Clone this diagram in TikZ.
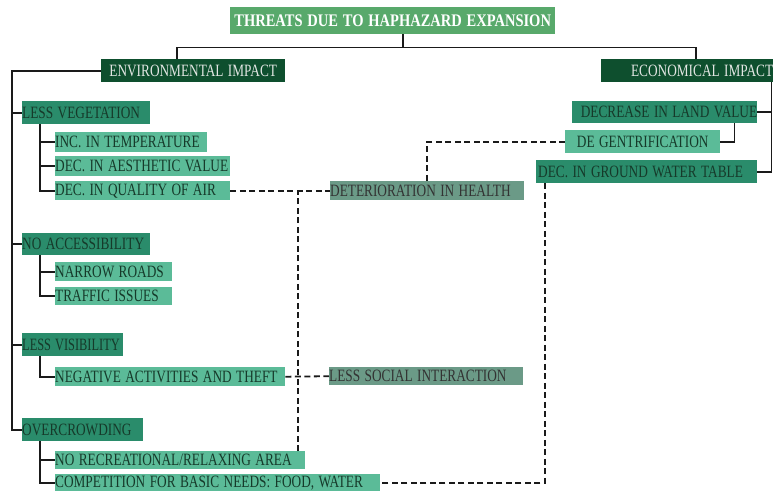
\documentclass[tikz,border=0pt]{standalone}
\usepackage{graphicx}
\usepackage{fontspec}
\setmainfont{Liberation Serif}
\definecolor{ctitle}{HTML}{58A96B}
\definecolor{cdark}{HTML}{0E4F2E}
\definecolor{ctwo}{HTML}{2A8C6B}
\definecolor{cthree}{HTML}{5BBB98}
\definecolor{cgray}{HTML}{6B9A87}
\definecolor{cline}{HTML}{1A1A1A}
\definecolor{ctxtdark}{HTML}{163A2A}
\definecolor{ctxtlight}{HTML}{E2E6E3}
\newcommand{\tallt}[1]{\scalebox{1}[1.3]{#1}}
\newcommand{\talln}[1]{\scalebox{0.93}[1.3]{#1}}
\newcommand{\talltitle}[1]{\scalebox{1}[1.22]{#1}}
\tikzset{
  bx/.style={anchor=north west, inner xsep=0pt, inner ysep=0pt, text width=#1,
    font=\fontsize{13.3}{15}\selectfont, text=ctxtdark},
  lvone/.style={bx=#1, fill=cdark, text=ctxtlight, align=center},
  lvtwo/.style={bx=#1, fill=ctwo, align=left},
  lvthree/.style={bx=#1, fill=cthree, align=left},
  lvgray/.style={bx=#1, fill=cgray, align=left, text=black!80},
  conn/.style={draw=cline, line width=1.8pt},
  dconn/.style={draw=cline, line width=1.8pt, dash pattern=on 6pt off 3.5pt},
}
\begin{document}
\begin{tikzpicture}[x=1pt,y=-1pt]
\useasboundingbox (0,0) rectangle (773,491);
% title
\node[anchor=north west, fill=ctitle, text=white, inner sep=0pt, text width=325pt,
  minimum height=27pt, align=center, font=\fontsize{14.5}{16}\selectfont\bfseries]
  (title) at (230,7) {\talltitle{THREATS DUE TO HAPHAZARD EXPANSION}};
% level one
\node[lvone=184pt, minimum height=23pt] (env) at (101,59) {\tallt{ENVIRONMENTAL IMPACT}};
\node[lvone=172pt, minimum height=23pt, align=right] (econ) at (601,59) {\tallt{ECONOMICAL IMPACT}};
% left level two
\node[lvtwo=128pt, minimum height=23pt] (veg) at (22,101) {\tallt{LESS VEGETATION}};
\node[lvtwo=128pt, minimum height=22pt] (acc) at (22,233) {\tallt{NO ACCESSIBILITY}};
\node[lvtwo=101pt, minimum height=23pt] (vis) at (22,333) {\talln{LESS VISIBILITY}};
\node[lvtwo=121pt, minimum height=23pt] (over) at (22,418) {\tallt{OVERCROWDING}};
% left level three
\node[lvthree=152pt, minimum height=20pt] (inc) at (55,132) {\tallt{INC. IN TEMPERATURE}};
\node[lvthree=175pt, minimum height=20pt] (aes) at (55,156) {\tallt{DEC. IN AESTHETIC VALUE}};
\node[lvthree=175pt, minimum height=19pt] (air) at (55,181) {\tallt{DEC. IN QUALITY OF AIR}};
\node[lvthree=117pt, minimum height=19pt] (narrow) at (55,262) {\tallt{NARROW ROADS}};
\node[lvthree=117pt, minimum height=18pt] (traffic) at (55,287) {\tallt{TRAFFIC ISSUES}};
\node[lvthree=230pt, minimum height=19pt] (neg) at (55,367) {\tallt{NEGATIVE ACTIVITIES AND THEFT}};
\node[lvthree=250pt, minimum height=18pt] (norec) at (55,451) {\tallt{NO RECREATIONAL/RELAXING AREA}};
\node[lvthree=325pt, minimum height=17pt] (comp) at (55,474) {\tallt{COMPETITION FOR BASIC NEEDS: FOOD, WATER}};
% gray
\node[lvgray=194pt, minimum height=19pt] (health) at (330,181) {\tallt{DETERIORATION IN HEALTH}};
\node[lvgray=194pt, minimum height=18pt] (social) at (329,367) {\tallt{LESS SOCIAL INTERACTION}};
% right side
\node[lvtwo=185pt, minimum height=22pt, align=right] (land) at (572,101) {\tallt{DECREASE IN LAND VALUE}\hspace{3pt}};
\node[lvthree=155pt, minimum height=23pt, align=center] (degent) at (565,130) {\tallt{DE GENTRIFICATION}};
\node[lvtwo=221pt, minimum height=23pt, align=left] (ground) at (536,160) {\hspace{2pt}\tallt{DEC. IN GROUND WATER TABLE}};
% solid connectors
\draw[conn] ([xshift=10.5pt]title.south) -- ++(0,13) coordinate (tj)
  -| ([xshift=-16pt]env.north);
\draw[conn] (tj) -| ([xshift=9pt]econ.north);
\coordinate (tk) at (12,0);
\draw[conn] (env.west) -| (tk |- over.west) -- (over.west);
\draw[conn] (tk |- veg.west) -- (veg.west);
\draw[conn] (tk |- acc.west) -- (acc.west);
\draw[conn] (tk |- vis.west) -- (vis.west);
\coordinate (sx) at (40,0);
\draw[conn] (sx |- veg.south) |- (air.west);
\draw[conn] (sx |- inc.west) -- (inc.west);
\draw[conn] (sx |- aes.west) -- (aes.west);
\draw[conn] (sx |- acc.south) |- (traffic.west);
\draw[conn] (sx |- narrow.west) -- (narrow.west);
\draw[conn] (sx |- vis.south) |- (neg.west);
\draw[conn] (sx |- over.south) |- (comp.west);
\draw[conn] (sx |- norec.west) -- (norec.west);
\draw[conn] ([xshift=-2pt]econ.south east) |- (ground.east);
\draw[conn] ([xshift=-2pt]econ.south east |- land.east) -- (land.east);
\draw[conn] ([xshift=-23pt]land.south east) |- (degent.east);
% dashed connectors
\draw[dconn] (air.east) -- (health.west);
\coordinate (vx) at (298,0);
\draw[dconn] (vx |- norec.north) -- (vx |- air.east);
\draw[dconn] (neg.east) -- (social.west);
\draw[dconn] (degent.west) -| (health.north);
\draw[dconn] ([xshift=9pt]ground.south west) |- (comp.east);
\end{tikzpicture}
\end{document}
